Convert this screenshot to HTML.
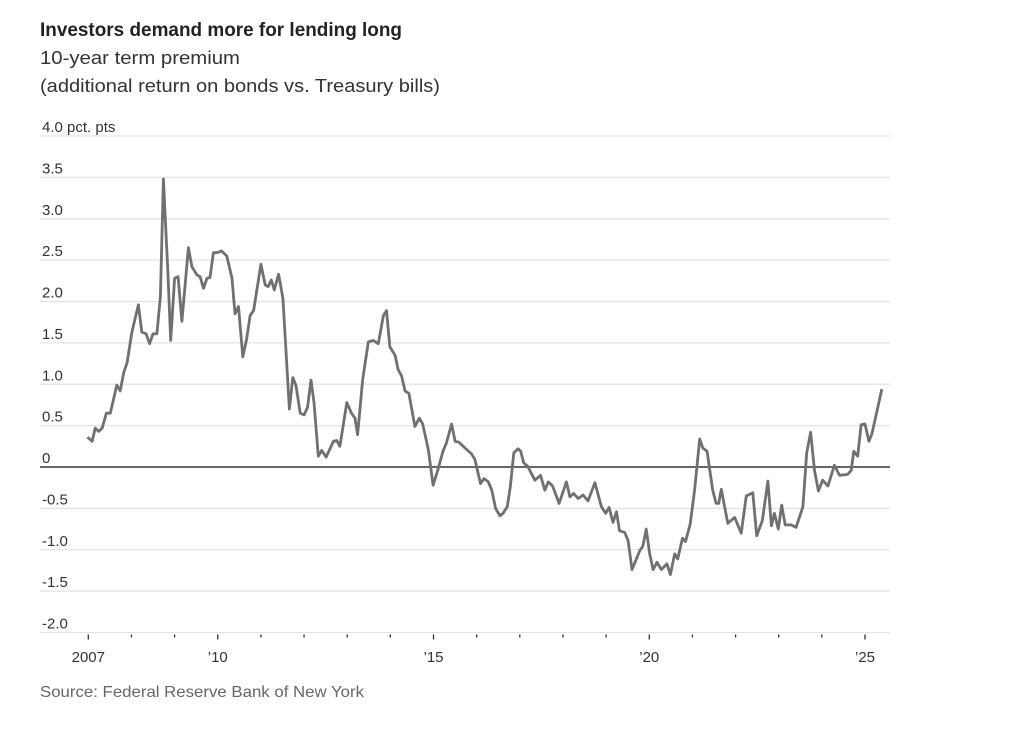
<!DOCTYPE html>
<html><head><meta charset="utf-8"><style>
body{margin:0;background:#fff;width:1034px;height:728px;overflow:hidden;font-family:"Liberation Sans",sans-serif;}
svg text{font-family:"Liberation Sans",sans-serif;}
</style></head><body>
<svg width="1034" height="728">
<text x="40" y="36" font-size="19" font-weight="bold" fill="#222" textLength="362" lengthAdjust="spacingAndGlyphs">Investors demand more for lending long</text>
<text x="40" y="64" font-size="18" fill="#333" textLength="200" lengthAdjust="spacingAndGlyphs">10-year term premium</text>
<text x="40" y="92" font-size="18" fill="#333" textLength="400" lengthAdjust="spacingAndGlyphs">(additional return on bonds vs. Treasury bills)</text>
<g id="grid"></g><g id="xaxis"></g><g id="series"></g>
<text x="40" y="697" font-size="16" fill="#666" textLength="324" lengthAdjust="spacingAndGlyphs">Source: Federal Reserve Bank of New York</text>
</svg>
<script>
const yTicks=[4.0,3.5,3.0,2.5,2.0,1.5,1.0,0.5,0,-0.5,-1.0,-1.5,-2.0];
const yTickLabels=["4.0 pct. pts","3.5","3.0","2.5","2.0","1.5","1.0","0.5","0","-0.5","-1.0","-1.5","-2.0"];
const xMajor=[2007,2010,2015,2020,2025];
const xMajorLabels=["2007","\u201910","\u201915","\u201920","\u201925"];
const years=[2006.98,2007.09,2007.16,2007.24,2007.32,2007.42,2007.51,2007.66,2007.74,2007.82,2007.90,2008.01,2008.16,2008.24,2008.34,2008.42,2008.50,2008.59,2008.67,2008.74,2008.84,2008.91,2009.00,2009.08,2009.17,2009.32,2009.40,2009.52,2009.59,2009.67,2009.75,2009.82,2009.90,2009.98,2010.09,2010.21,2010.33,2010.40,2010.48,2010.58,2010.67,2010.75,2010.83,2011.00,2011.10,2011.17,2011.24,2011.31,2011.41,2011.51,2011.66,2011.74,2011.81,2011.91,2012.00,2012.08,2012.16,2012.23,2012.33,2012.41,2012.51,2012.68,2012.76,2012.83,2012.99,2013.10,2013.18,2013.24,2013.36,2013.49,2013.60,2013.72,2013.84,2013.91,2013.99,2014.11,2014.18,2014.26,2014.34,2014.43,2014.57,2014.67,2014.75,2014.88,2014.99,2015.11,2015.22,2015.30,2015.42,2015.50,2015.59,2015.73,2015.88,2015.96,2016.09,2016.17,2016.27,2016.35,2016.44,2016.54,2016.61,2016.71,2016.78,2016.86,2016.96,2017.02,2017.09,2017.18,2017.35,2017.48,2017.58,2017.66,2017.76,2017.91,2018.08,2018.16,2018.25,2018.35,2018.47,2018.58,2018.74,2018.89,2018.99,2019.07,2019.16,2019.24,2019.31,2019.43,2019.51,2019.60,2019.78,2019.85,2019.93,2020.01,2020.09,2020.18,2020.28,2020.41,2020.49,2020.59,2020.66,2020.77,2020.84,2020.95,2021.05,2021.17,2021.24,2021.34,2021.47,2021.55,2021.61,2021.67,2021.82,2021.98,2022.13,2022.25,2022.40,2022.49,2022.62,2022.75,2022.83,2022.90,2022.99,2023.07,2023.15,2023.29,2023.40,2023.56,2023.65,2023.74,2023.83,2023.92,2024.02,2024.14,2024.29,2024.41,2024.60,2024.68,2024.74,2024.83,2024.91,2025.00,2025.09,2025.16,2025.39];
const premium=[0.36,0.31,0.47,0.43,0.47,0.65,0.65,0.99,0.92,1.14,1.26,1.63,1.96,1.63,1.61,1.49,1.61,1.61,2.06,3.48,2.40,1.53,2.28,2.30,1.76,2.65,2.42,2.32,2.30,2.16,2.28,2.29,2.59,2.59,2.61,2.55,2.28,1.85,1.94,1.33,1.55,1.83,1.89,2.45,2.20,2.18,2.26,2.14,2.33,2.04,0.70,1.08,0.99,0.65,0.63,0.72,1.05,0.78,0.13,0.20,0.12,0.31,0.32,0.25,0.78,0.65,0.59,0.39,1.06,1.51,1.53,1.49,1.83,1.89,1.45,1.35,1.18,1.10,0.92,0.89,0.49,0.59,0.52,0.21,-0.22,-0.02,0.19,0.29,0.52,0.31,0.30,0.23,0.16,0.09,-0.20,-0.14,-0.18,-0.28,-0.50,-0.59,-0.56,-0.48,-0.24,0.17,0.22,0.19,0.05,0.01,-0.16,-0.10,-0.28,-0.18,-0.23,-0.44,-0.18,-0.36,-0.32,-0.38,-0.34,-0.41,-0.19,-0.48,-0.56,-0.49,-0.67,-0.54,-0.77,-0.79,-0.89,-1.24,-1.01,-0.96,-0.75,-1.05,-1.24,-1.15,-1.24,-1.17,-1.30,-1.05,-1.11,-0.86,-0.90,-0.69,-0.28,0.34,0.23,0.19,-0.28,-0.44,-0.44,-0.27,-0.68,-0.61,-0.80,-0.35,-0.31,-0.83,-0.65,-0.17,-0.71,-0.56,-0.75,-0.46,-0.70,-0.70,-0.73,-0.48,0.17,0.42,-0.04,-0.29,-0.16,-0.23,0.02,-0.10,-0.09,-0.04,0.19,0.13,0.51,0.52,0.31,0.40,0.94];

const NS="http://www.w3.org/2000/svg";
const X0=88.3, PXY=43.15, Y0=467, PXV=82.75, GL=40, GR=890;
function xs(yr){return X0+(yr-2007)*PXY;}
function ys(v){return Y0-v*PXV;}
function mk(tag,attrs,parent){const e=document.createElementNS(NS,tag);for(const k in attrs)e.setAttribute(k,attrs[k]);parent.appendChild(e);return e;}
const grid=document.getElementById('grid');
yTicks.forEach((v,i)=>{
  const zero=v===0;
  const l=mk('line',{x1:GL,x2:GR,y1:ys(v),y2:ys(v),stroke:zero?'#333':'#e3e3e3','stroke-width':zero?1.4:1.2},grid);
  
  
  const t=mk('text',{x:42,y:ys(v)-4,'font-size':15,fill:'#333'},grid);
  t.textContent=yTickLabels[i];
  
  
});
const xa=document.getElementById('xaxis');
for(let yr=2007;yr<=2025;yr++){
  const major=xMajor.indexOf(yr)>=0;
  const tk=mk('line',{x1:xs(yr),x2:xs(yr),y1:ys(-2)+2,y2:ys(-2)+(major?7:5),stroke:'#333','stroke-width':1.3},xa);
  
  
}
xMajor.forEach((yr,i)=>{
  const t=mk('text',{x:xs(yr),y:662,'font-size':15,fill:'#333','text-anchor':'middle'},xa);
  t.textContent=xMajorLabels[i];
  
  
});
const d=years.map((yr,i)=>(i?'L':'M')+xs(yr).toFixed(1)+','+ys(premium[i]).toFixed(1)).join('');
const p=mk('path',{d:d,fill:'none',stroke:'#707070','stroke-width':2.8,'stroke-linejoin':'round'},document.getElementById('series'));


</script>
</body></html>
